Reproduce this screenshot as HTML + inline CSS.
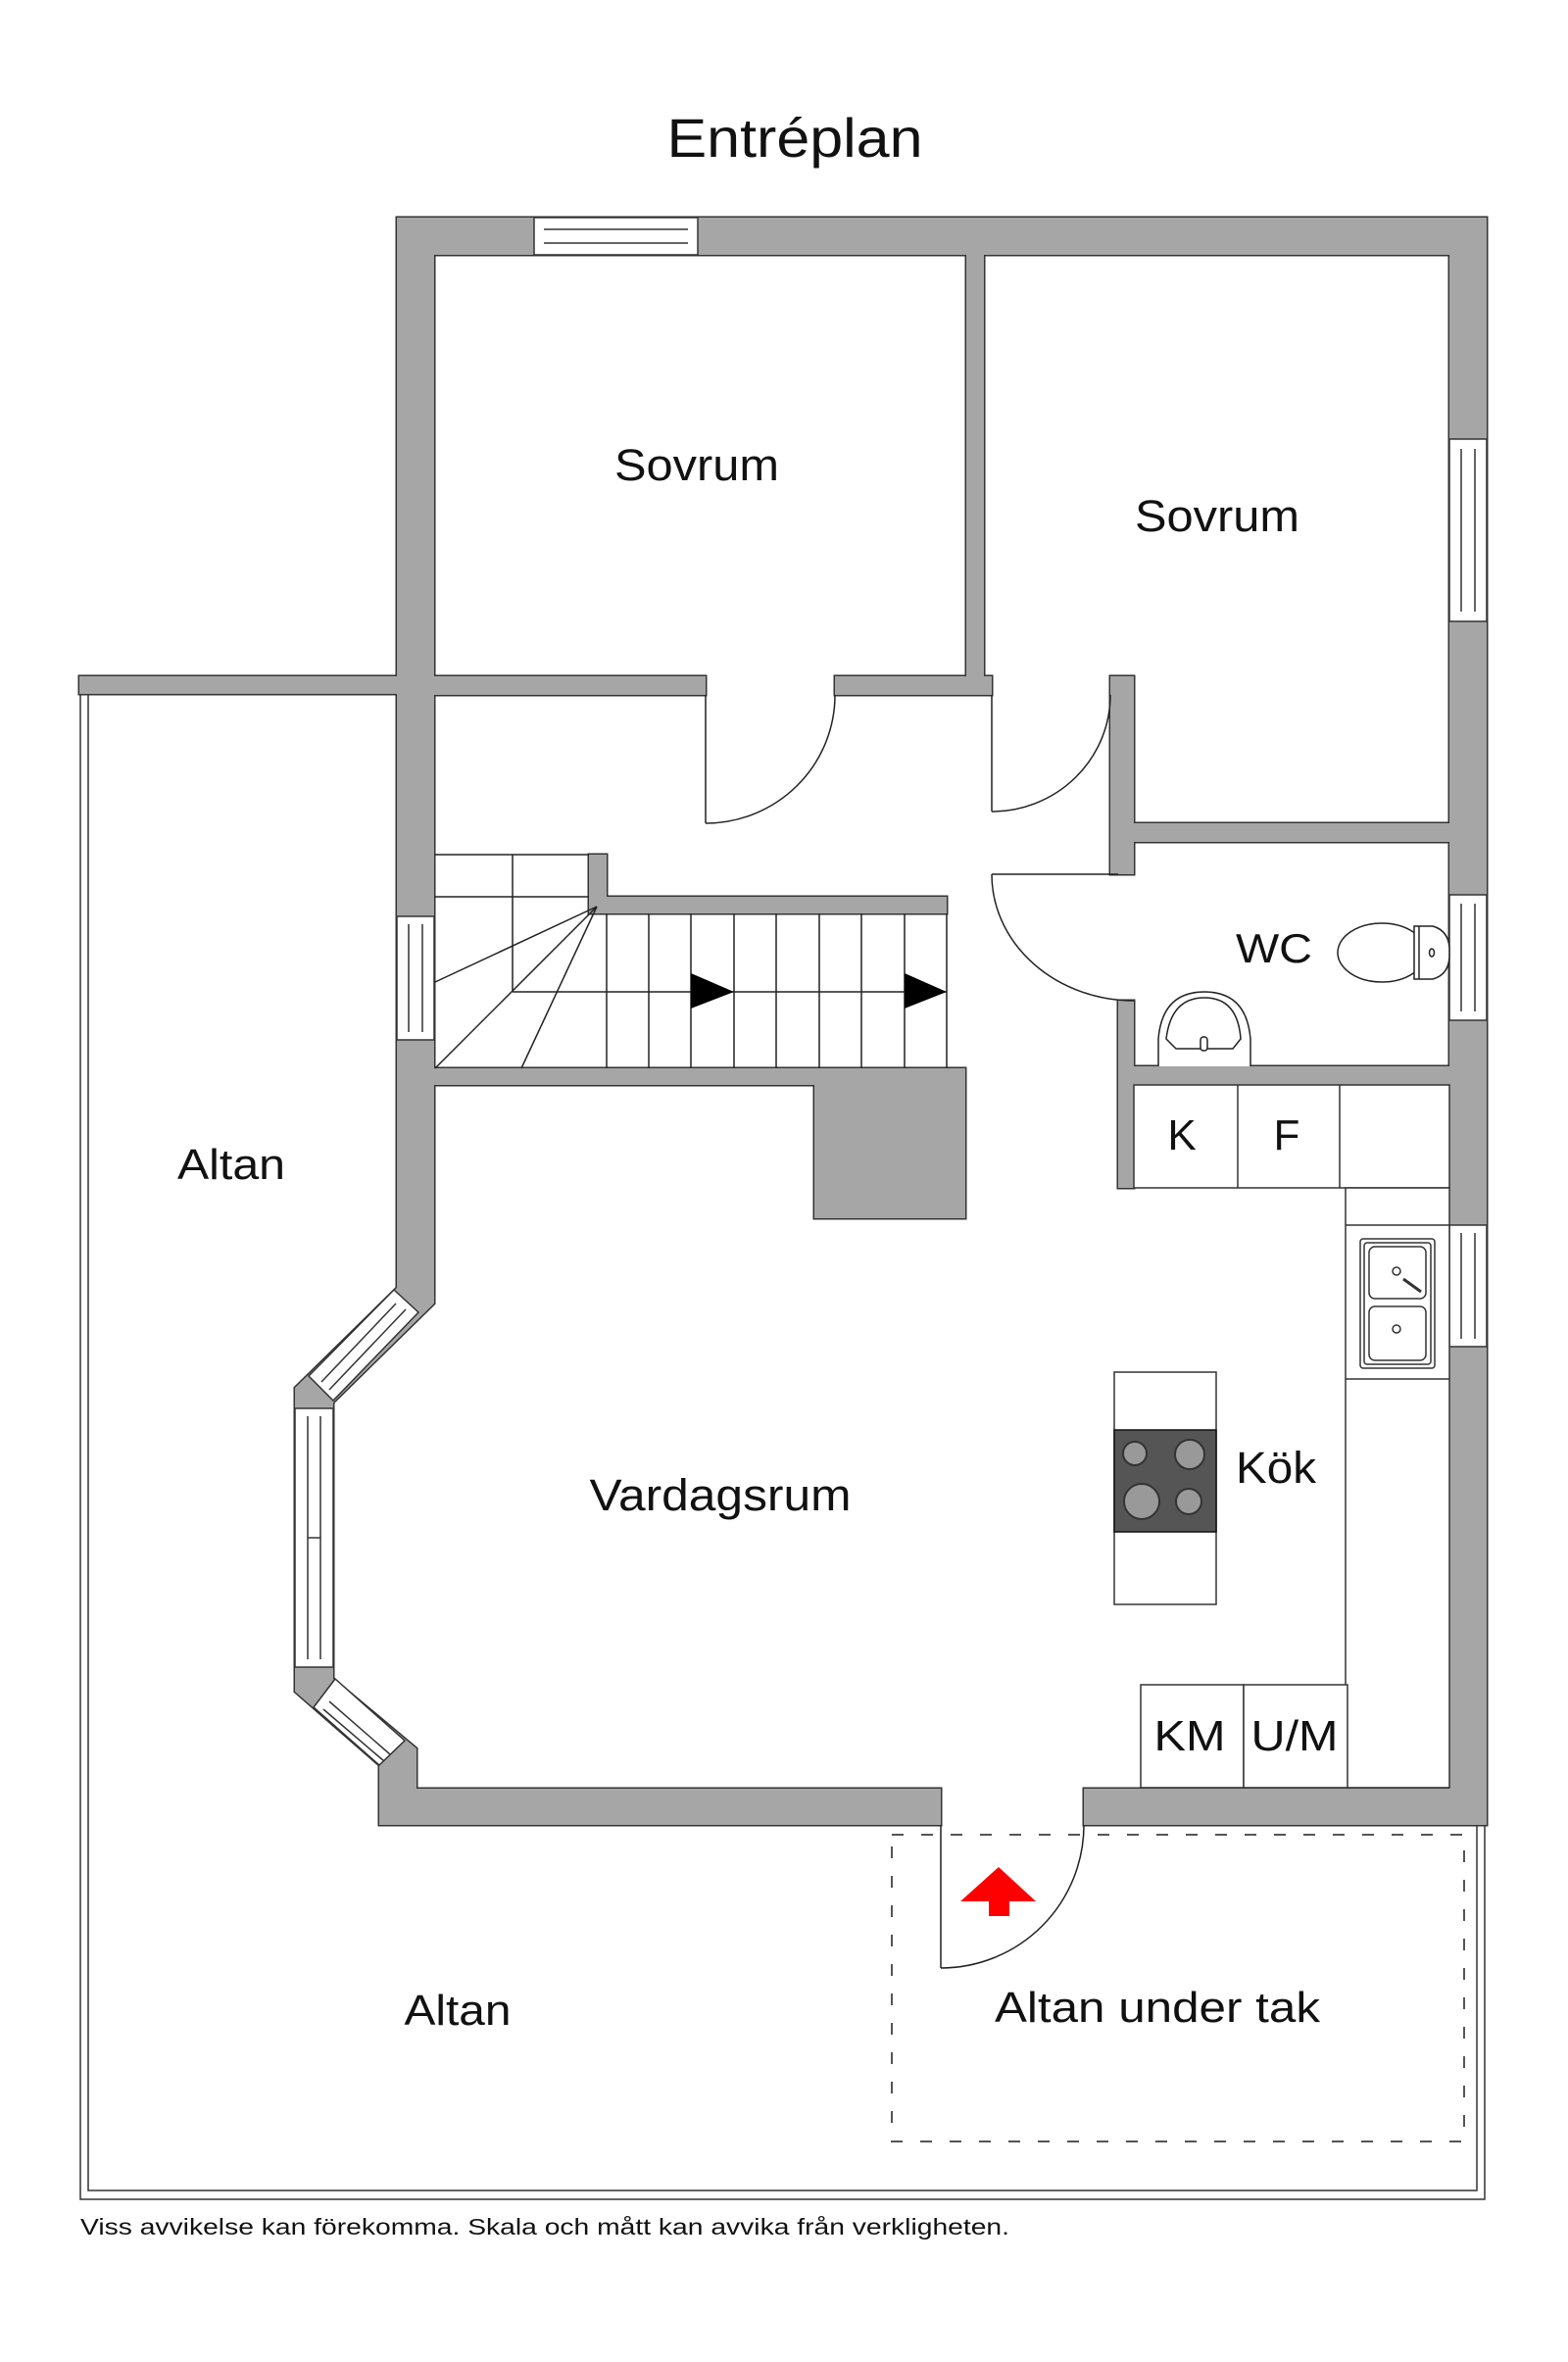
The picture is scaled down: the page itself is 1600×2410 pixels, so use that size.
<!DOCTYPE html>
<html><head><meta charset="utf-8"><style>
html,body{margin:0;padding:0;background:#fff;}
svg{display:block;}
text{font-family:"Liberation Sans",sans-serif;fill:#111;}
</style></head><body>
<svg width="1600" height="2410" viewBox="0 0 1600 2410" xmlns="http://www.w3.org/2000/svg">
<defs>
<g id="walls">
<rect x="405" y="222" width="1112" height="38"/>
<rect x="405" y="222" width="38" height="900"/>
<rect x="1479" y="222" width="38" height="1640"/>
<rect x="81" y="690" width="324" height="18"/>
<rect x="443" y="690" width="277" height="19"/>
<rect x="852" y="690" width="160" height="19"/>
<rect x="986" y="260" width="18" height="449"/>
<rect x="1133" y="690" width="24" height="202"/>
<rect x="1157" y="840" width="322" height="19"/>
<rect x="1141" y="1021" width="16" height="191"/>
<rect x="1157" y="1088" width="322" height="19"/>
<rect x="601" y="872" width="18" height="60"/>
<rect x="601" y="915" width="365" height="17"/>
<polygon points="443,1090 985,1090 985,1243 831,1243 831,1107 443,1107"/>
<polygon points="405,1100 405,1314 301,1416 301,1726 387,1801 387,1862 960,1862 960,1825 425,1825 425,1784 340,1713 340,1431 443,1330 443,1100"/>
<rect x="1106" y="1825" width="411" height="37"/>
</g>
</defs>
<g stroke="#333" stroke-width="1.5" fill="none">
<polyline points="82,690 82,2244 1515,2244 1515,1862"/>
<polyline points="90,708 90,2235 1507,2235 1507,1862"/>
</g>
<rect x="910" y="1872" width="584" height="313" fill="none" stroke="#555" stroke-width="2" stroke-dasharray="12,18"/>

<use href="#walls" fill="#a6a6a6" stroke="#333" stroke-width="3"/>
<use href="#walls" fill="#a6a6a6" stroke="none"/>

<g fill="#fff" stroke="#333" stroke-width="1.5">
<rect x="545" y="222" width="167" height="38"/>
<line x1="555" y1="234" x2="702" y2="234"/><line x1="555" y1="248" x2="702" y2="248"/>
<rect x="1479" y="448" width="38" height="186"/>
<line x1="1491" y1="458" x2="1491" y2="624"/><line x1="1505" y1="458" x2="1505" y2="624"/>
<rect x="1479" y="913" width="38" height="128"/>
<line x1="1491" y1="922" x2="1491" y2="1032"/><line x1="1505" y1="922" x2="1505" y2="1032"/>
<rect x="1479" y="1250" width="38" height="124"/>
<line x1="1491" y1="1258" x2="1491" y2="1366"/><line x1="1505" y1="1258" x2="1505" y2="1366"/>
<rect x="405" y="935" width="38" height="126"/>
<line x1="417" y1="943" x2="417" y2="1053"/><line x1="431" y1="943" x2="431" y2="1053"/>
<polygon points="402,1316 427,1339 340,1429 315,1404"/>
<line x1="404" y1="1330" x2="328" y2="1410"/><line x1="414" y1="1336" x2="336" y2="1418"/>
<rect x="301" y="1437" width="39" height="264"/>
<line x1="314" y1="1445" x2="314" y2="1693"/><line x1="327" y1="1445" x2="327" y2="1693"/><line x1="314" y1="1569" x2="327" y2="1569"/>
<polygon points="320,1742 342,1713 413,1776 387,1801"/>
<line x1="336" y1="1736" x2="398" y2="1790"/><line x1="330" y1="1744" x2="392" y2="1797"/>
</g>

<g fill="none" stroke="#222" stroke-width="1.5">
<line x1="720" y1="709" x2="720" y2="840"/><path d="M720,840 A132,131 0 0 0 852,709"/>
<line x1="1012" y1="709" x2="1012" y2="828"/><path d="M1012,828 A121,119 0 0 0 1133,709"/>
<line x1="1012" y1="892" x2="1141" y2="892"/><path d="M1012,892 A145,129 0 0 0 1157,1021"/>
<line x1="960" y1="1862" x2="960" y2="2008"/><path d="M960,2008 A146,146 0 0 0 1106,1862"/>
</g>

<g fill="none" stroke="#222" stroke-width="1.5">
<line x1="443" y1="872" x2="601" y2="872"/>
<line x1="443" y1="915" x2="601" y2="915"/>
<line x1="523" y1="872" x2="523" y2="1012"/>
<line x1="523" y1="1012" x2="966" y2="1012"/>
<line x1="966" y1="932" x2="966" y2="1090"/>
<line x1="609" y1="925" x2="444" y2="1002"/>
<line x1="609" y1="925" x2="444" y2="1090"/>
<line x1="609" y1="925" x2="532" y2="1090"/>
<line x1="619" y1="932" x2="619" y2="1090"/><line x1="662" y1="932" x2="662" y2="1090"/>
<line x1="705" y1="932" x2="705" y2="1090"/><line x1="749" y1="932" x2="749" y2="1090"/>
<line x1="792" y1="932" x2="792" y2="1090"/><line x1="836" y1="932" x2="836" y2="1090"/>
<line x1="879" y1="932" x2="879" y2="1090"/><line x1="923" y1="932" x2="923" y2="1090"/>
</g>
<polygon points="705,993 749,1012 705,1029" fill="#000"/>
<polygon points="923,993 966,1012 923,1029" fill="#000"/>

<g fill="#fff" stroke="#222" stroke-width="1.5">
<ellipse cx="1410" cy="972" rx="45" ry="30"/>
<path d="M1443,945 L1462,945 Q1480,950 1479,972 Q1480,994 1462,999 L1443,999 Z"/>
<line x1="1448" y1="945" x2="1448" y2="999"/>
<ellipse cx="1461" cy="972" rx="2.5" ry="4"/>
<path d="M1182,1088 L1182,1060 Q1186,1012 1229,1012 Q1272,1012 1276,1060 L1276,1088"/>
<path d="M1190,1060 Q1195,1018 1229,1018 Q1263,1018 1266,1060 L1258,1070 L1200,1070 Z"/>
<rect x="1225" y="1058" width="7" height="14" rx="3"/>
</g>

<g fill="#fff" stroke="#333" stroke-width="1.5">
<rect x="1157" y="1107" width="322" height="105"/>
<line x1="1263" y1="1107" x2="1263" y2="1212"/><line x1="1367" y1="1107" x2="1367" y2="1212"/>
<rect x="1373" y="1212" width="106" height="612"/>
<line x1="1373" y1="1250" x2="1479" y2="1250"/><line x1="1373" y1="1407" x2="1479" y2="1407"/>
<rect x="1388" y="1264" width="76" height="132" rx="3"/>
<rect x="1392" y="1268" width="68" height="124" rx="3"/>
<rect x="1397" y="1272" width="58" height="53" rx="6"/>
<rect x="1397" y="1333" width="58" height="55" rx="6"/>
<circle cx="1425" cy="1297" r="4"/><circle cx="1425" cy="1356" r="4"/>
<line x1="1432" y1="1305" x2="1450" y2="1318" stroke-width="3"/>
<rect x="1164" y="1719" width="105" height="105"/><rect x="1269" y="1719" width="106" height="105"/>
<rect x="1137" y="1400" width="104" height="237"/>
<rect x="1137" y="1459" width="104" height="104" fill="#555" stroke="#111"/>
</g>
<g fill="#999" stroke="#333" stroke-width="2">
<circle cx="1158" cy="1483" r="12"/><circle cx="1214" cy="1484" r="15"/>
<circle cx="1165" cy="1532" r="18"/><circle cx="1213" cy="1532" r="13"/>
</g>
<polygon points="1019,1905 1057,1940 1030,1940 1030,1955 1009,1955 1009,1940 980,1940" fill="#f00"/>

<text x="811" y="160" font-size="56" text-anchor="middle" textLength="261" lengthAdjust="spacingAndGlyphs">Entréplan</text>
<text x="711" y="490" font-size="45" text-anchor="middle" textLength="168" lengthAdjust="spacingAndGlyphs">Sovrum</text>
<text x="1242" y="542" font-size="45" text-anchor="middle" textLength="168" lengthAdjust="spacingAndGlyphs">Sovrum</text>
<text x="1300" y="982" font-size="42" text-anchor="middle" textLength="78" lengthAdjust="spacingAndGlyphs">WC</text>
<text x="1206" y="1173" font-size="44" text-anchor="middle">K</text>
<text x="1313" y="1173" font-size="44" text-anchor="middle">F</text>
<text x="236" y="1203" font-size="44" text-anchor="middle" textLength="110" lengthAdjust="spacingAndGlyphs">Altan</text>
<text x="735" y="1541" font-size="45" text-anchor="middle" textLength="267" lengthAdjust="spacingAndGlyphs">Vardagsrum</text>
<text x="1261" y="1513" font-size="45" textLength="82" lengthAdjust="spacingAndGlyphs">Kök</text>
<text x="1214" y="1786" font-size="44" text-anchor="middle" textLength="73" lengthAdjust="spacingAndGlyphs">KM</text>
<text x="1321" y="1786" font-size="44" text-anchor="middle" textLength="89" lengthAdjust="spacingAndGlyphs">U/M</text>
<text x="467" y="2066" font-size="44" text-anchor="middle" textLength="109" lengthAdjust="spacingAndGlyphs">Altan</text>
<text x="1015" y="2063" font-size="44" textLength="332" lengthAdjust="spacingAndGlyphs">Altan under tak</text>
<text x="82" y="2280" font-size="23" textLength="948" lengthAdjust="spacingAndGlyphs">Viss avvikelse kan förekomma. Skala och mått kan avvika från verkligheten.</text>
</svg>
</body></html>
